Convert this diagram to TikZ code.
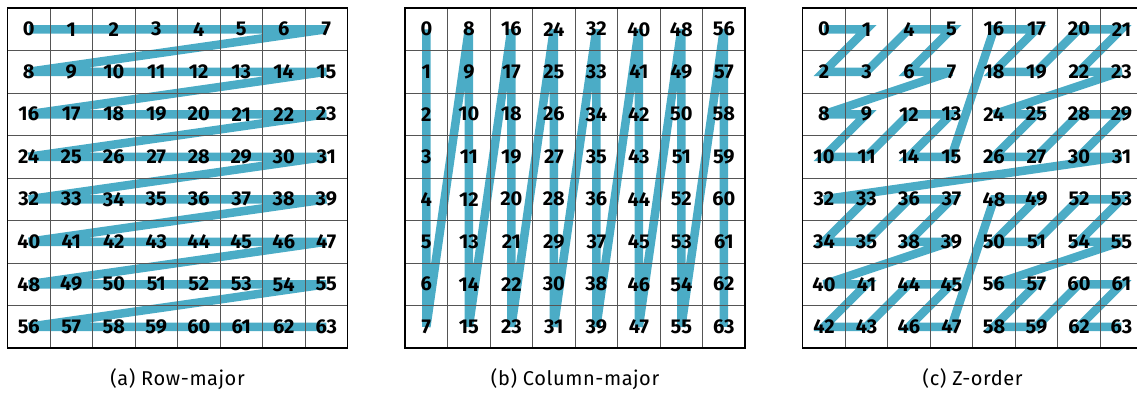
\documentclass[tikz,border=0pt]{standalone}
\usepackage{fontspec}
\setmainfont{Fira Sans}
\newfontfamily\capfont[LetterSpace=3]{Fira Sans}
\definecolor{zline}{HTML}{4BACC6}
\definecolor{gridgray}{HTML}{555555}
\pgfdeclarelayer{bg}
\pgfdeclarelayer{mid}
\pgfsetlayers{bg,mid,main}
\tikzset{
  num/.style={font=\fontsize{20}{20}\selectfont\bfseries, inner sep=0pt, anchor=center},
  zpath/.style={draw=zline, line width=8.5pt, line join=miter, miter limit=3},
  gridline/.style={draw=gridgray, line width=0.9pt},
  frame/.style={draw=black, line width=1.3pt},
  caption/.style={font=\capfont\fontsize{20}{20}\selectfont, inner sep=0pt, anchor=base}
}
\begin{document}
\begin{tikzpicture}[x=1pt,y=-1pt]
\useasboundingbox (0,0) rectangle (1137,392);
\clip (0,0) rectangle (1137,392);
\foreach \g/\ox/\m/\lbl in {a/7.5/0/{(a) Row-major}, b/405.1/1/{(b) Column-major}, c/802.7/2/{(c) Z-order}} {
  \foreach \n in {0,...,63} {
    \pgfmathtruncatemacro\col{ifthenelse(\m==0, mod(\n,8), ifthenelse(\m==1, int(\n/8), mod(\n,2)+2*mod(int(\n/4),2)+4*mod(int(\n/16),2)))}
    \pgfmathtruncatemacro\row{ifthenelse(\m==0, int(\n/8), ifthenelse(\m==1, mod(\n,8), mod(int(\n/2),2)+2*mod(int(\n/8),2)+4*mod(int(\n/32),2)))}
    \node[num] (\g\n) at (\ox+21.25+42.5*\col, 29.25+42.5*\row) {\n};
  }
  \begin{pgfonlayer}{bg}
    \draw[zpath] (\g0.center) \foreach \k in {1,...,63} { -- (\g\k.center) };
  \end{pgfonlayer}
  \begin{pgfonlayer}{mid}
    \foreach \i in {1,...,7} {
      \draw[gridline] (\ox+42.5*\i,8) -- (\ox+42.5*\i,348);
      \draw[gridline] (\ox,8+42.5*\i) -- (\ox+340,8+42.5*\i);
    }
    \draw[frame] (\ox,8) rectangle (\ox+340,348);
  \end{pgfonlayer}
  \node[caption] (cap\g) at (\ox+170,385) {\lbl};
}
\end{tikzpicture}
\end{document}
